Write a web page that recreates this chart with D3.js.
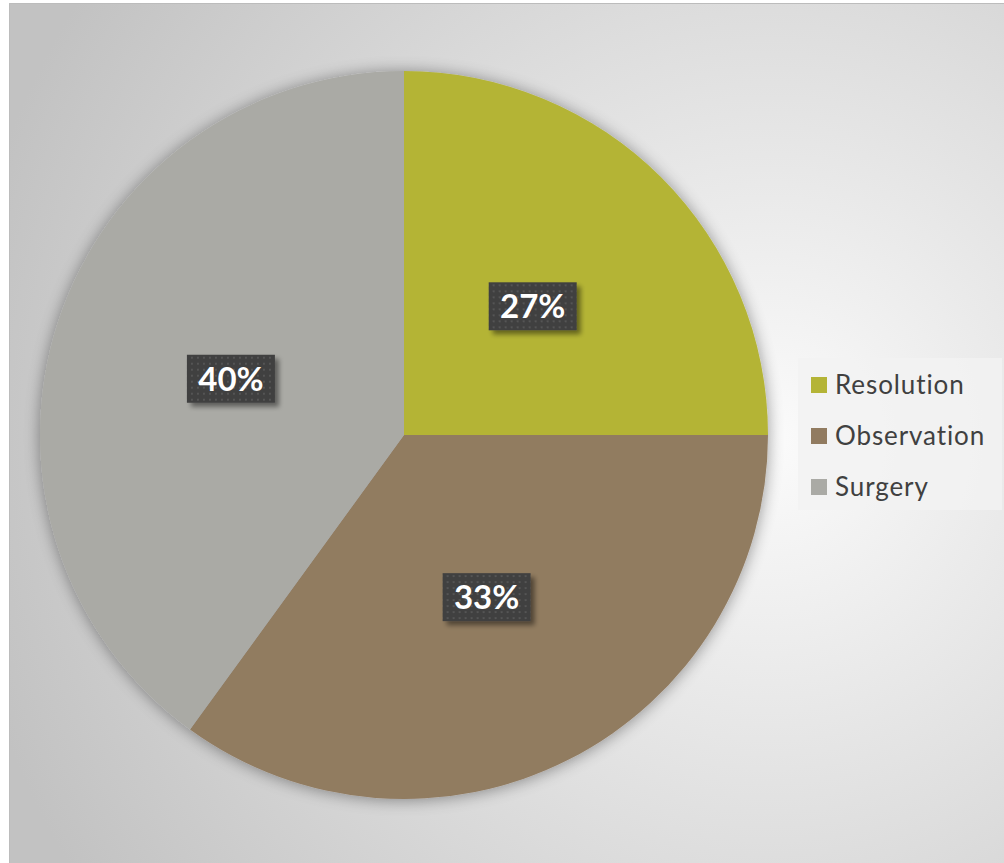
<!DOCTYPE html>
<html>
<head>
<meta charset="utf-8">
<script src="https://cdn.jsdelivr.net/npm/d3@7"></script>
<style>
  body { margin: 0; background: #fff; }
  svg { display: block; }
</style>
</head>
<body>
<svg id="chart" width="1004" height="863"></svg>
<script>
// slice shares as drawn, and the data labels as printed on the chart
var categories = ['Resolution', 'Observation', 'Surgery'];
var shares = [25, 35, 40];
var labels = ['27%', '33%', '40%'];
var colours = ['#b4b436', '#917b60', '#aaaaa5'];

var svg = d3.select('#chart');
var W = 1004, H = 863;
var cx = 404, cy = 435, R = 364;
var font = '"Century Gothic", "URW Gothic", Lato, "Open Sans", sans-serif';

var defs = svg.append('defs');

// background gradient, light near the legend, grey at the corners
var bg = defs.append('radialGradient').attr('id', 'bg')
  .attr('gradientUnits', 'userSpaceOnUse')
  .attr('cx', 770).attr('cy', 440).attr('r', 820);
bg.append('stop').attr('offset', 0).attr('stop-color', '#fbfbfb');
bg.append('stop').attr('offset', 0.4).attr('stop-color', '#e4e4e4');
bg.append('stop').attr('offset', 1).attr('stop-color', '#c2c2c2');

var glow = defs.append('filter').attr('id', 'glow')
  .attr('x', '-10%').attr('y', '-10%').attr('width', '120%').attr('height', '120%');
glow.append('feGaussianBlur').attr('in', 'SourceAlpha').attr('stdDeviation', 8);
glow.append('feOffset').attr('dx', 0).attr('dy', 1).attr('result', 'b');
glow.append('feComponentTransfer').append('feFuncA').attr('type', 'linear').attr('slope', 0.4);
var gm = glow.append('feMerge');
gm.append('feMergeNode');
gm.append('feMergeNode').attr('in', 'SourceGraphic');

var shadow = defs.append('filter').attr('id', 'lblshadow')
  .attr('x', '-20%').attr('y', '-20%').attr('width', '150%').attr('height', '150%');
shadow.append('feGaussianBlur').attr('in', 'SourceAlpha').attr('stdDeviation', 2.5);
shadow.append('feOffset').attr('dx', 4).attr('dy', 4);
shadow.append('feComponentTransfer').append('feFuncA').attr('type', 'linear').attr('slope', 0.45);
var sm = shadow.append('feMerge');
sm.append('feMergeNode');
sm.append('feMergeNode').attr('in', 'SourceGraphic');

var dots = defs.append('pattern').attr('id', 'dots')
  .attr('patternUnits', 'userSpaceOnUse').attr('width', 6).attr('height', 6);
dots.append('rect').attr('width', 6).attr('height', 6).attr('fill', '#3f3f3f');
dots.append('rect').attr('x', 2).attr('y', 2).attr('width', 2).attr('height', 2).attr('fill', '#555');

// chart area
svg.append('rect').attr('x', 9).attr('y', 3).attr('width', W - 9).attr('height', H - 3)
  .attr('fill', 'url(#bg)');
svg.append('path').attr('d', 'M9.5,' + H + 'V3.5H' + W)
  .attr('fill', 'none').attr('stroke', '#bcbcbc').attr('stroke-width', 1);

var pie = d3.pie().sort(null).value(function(d) { return d; });
var arcs = pie(shares);
var arc = d3.arc().innerRadius(0).outerRadius(R);

var g = svg.append('g').attr('transform', 'translate(' + cx + ',' + cy + ')');
g.append('g').attr('filter', 'url(#glow)').selectAll('path')
  .data(arcs).enter().append('path')
  .attr('d', arc)
  .attr('fill', function(d, i) { return colours[i]; });

// data labels
var lg = g.selectAll('g.lbl').data(arcs).enter().append('g')
  .attr('class', 'lbl')
  .attr('transform', function(d) { return 'translate(' + arc.centroid(d) + ')'; });
lg.append('rect').attr('x', -44).attr('y', -24).attr('width', 88).attr('height', 48)
  .attr('fill', 'url(#dots)').attr('filter', 'url(#lblshadow)');
lg.append('text').attr('text-anchor', 'middle').attr('dy', '0.36em')
  .style('font-family', font)
  .style('font-size', '33px').style('font-weight', 'bold').attr('fill', '#fff')
  .text(function(d, i) { return labels[i]; });

// legend
var leg = svg.append('g').attr('transform', 'translate(798,358)');
leg.append('rect').attr('width', 204).attr('height', 152).attr('fill', '#f2f2f2').attr('opacity', 0.85);
var rows = leg.selectAll('g.row').data(categories).enter().append('g')
  .attr('class', 'row')
  .attr('transform', function(d, i) { return 'translate(0,' + (27 + i * 51) + ')'; });
rows.append('rect').attr('x', 13).attr('y', -8).attr('width', 16).attr('height', 16)
  .attr('fill', function(d, i) { return colours[i]; });
rows.append('text').attr('x', 37).attr('dy', '0.36em')
  .style('font-family', font)
  .style('font-size', '26px').style('letter-spacing', '0.9px').attr('fill', '#404040')
  .text(function(d) { return d; });
</script>
</body>
</html>
